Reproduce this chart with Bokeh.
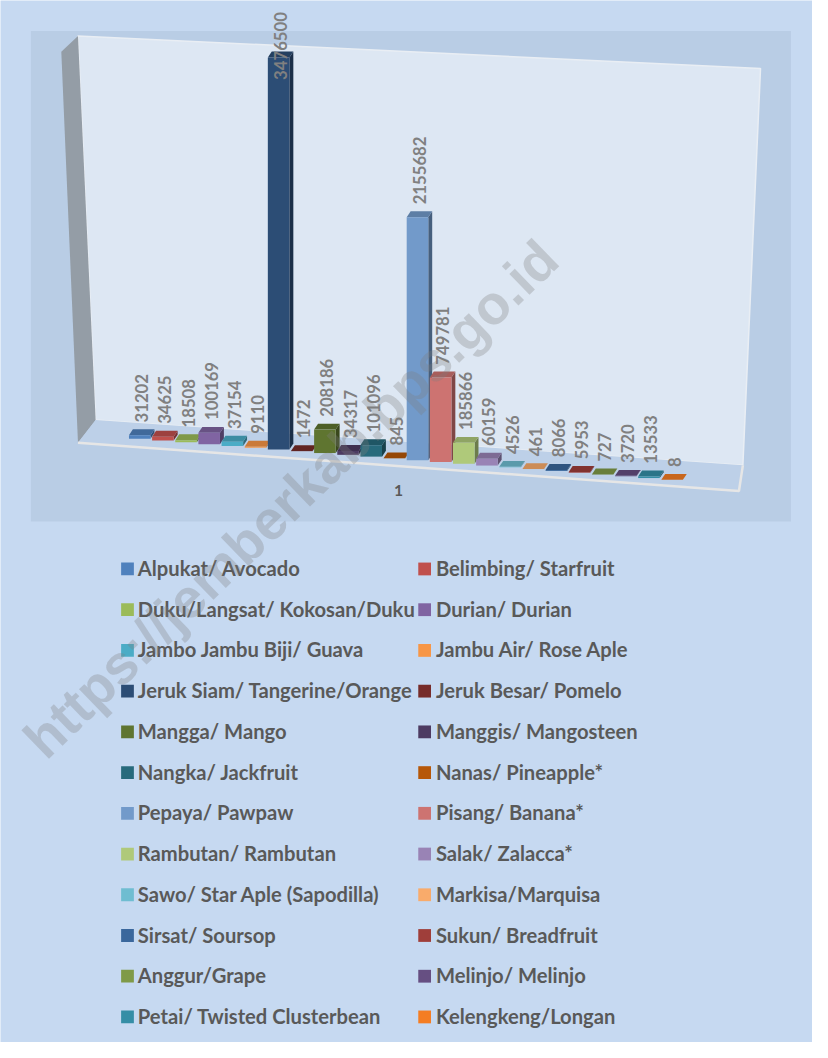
import math
from bokeh.plotting import figure
from bokeh.models import Range1d
from bokeh.core.properties import value
from bokeh.embed import file_html
from bokeh.resources import INLINE

# ---------------- data ----------------
categories = ["1"]
names = [
    "Alpukat/ Avocado", "Belimbing/ Starfruit",
    "Duku/Langsat/ Kokosan/Duku", "Durian/ Durian",
    "Jambo Jambu Biji/ Guava", "Jambu Air/ Rose Aple",
    "Jeruk Siam/ Tangerine/Orange", "Jeruk Besar/ Pomelo",
    "Mangga/ Mango", "Manggis/ Mangosteen",
    "Nangka/ Jackfruit", "Nanas/ Pineapple*",
    "Pepaya/ Pawpaw", "Pisang/ Banana*",
    "Rambutan/ Rambutan", "Salak/ Zalacca*",
    "Sawo/ Star Aple (Sapodilla)", "Markisa/Marquisa",
    "Sirsat/ Soursop", "Sukun/ Breadfruit",
    "Anggur/Grape", "Melinjo/ Melinjo",
    "Petai/ Twisted Clusterbean", "Kelengkeng/Longan",
]
values = [31202, 34625, 18508, 100169, 37154, 9110, 3476500, 1472,
          208186, 34317, 101096, 845, 2155682, 749781, 185866, 60159,
          4526, 461, 8066, 5953, 727, 3720, 13533, 8]
colors = ["#4f81bd", "#c0504d", "#9bbb59", "#8064a2", "#4bacc6", "#f79646",
          "#2c4d75", "#772c2a", "#5f7530", "#4d3b62", "#276a7c", "#b65708",
          "#729aca", "#cd7371", "#afc97a", "#9983b5", "#6fbdd1", "#f9ab6b",
          "#3a679c", "#9f3e3a", "#7f9a48", "#664f82", "#358ea6", "#f47d23"]

# ---------------- layout constants ----------------
W, H = 812, 1042               # figure size on screen
RW, RH = 828.0, 1058.0         # layout units (reference canvas)
PX0, PXSTEP = 142.0, 23.6      # bar index -> layout x
Y0 = 445.0                     # baseline of the first bar (layout y)
K = 398.0 / 3476500.0          # layout units per value unit
SLOPE_PX = 1.813               # floor slope per bar
BAR_W = 22.0 / PXSTEP
DEP_X = 4.0 / PXSTEP
DEP_Y = 6.0 / K
FS = W / RW                    # font scale


def shade(c, f):
    c = c.lstrip("#")
    r, g, b = (int(c[i:i + 2], 16) for i in (0, 2, 4))
    return "#%02x%02x%02x" % (int(r * f), int(g * f), int(b * f))


def px(s):
    return "%.1fpx" % (s * FS)


p = figure(width=W, height=H, x_range=Range1d(0, RW), y_range=Range1d(RH, 0),
           x_axis_location=None, y_axis_location=None, min_border=0,
           output_backend="svg", toolbar_location=None)
p.grid.visible = False
p.outline_line_color = None
p.background_fill_color = "#c6d9f1"
p.border_fill_color = "#c6d9f1"

p.extra_x_ranges = {"idx": Range1d((0 - PX0) / PXSTEP, (RW - PX0) / PXSTEP)}
p.extra_y_ranges = {"val": Range1d((Y0 - RH) / K, (Y0 - 0) / K)}

# plot area and 3D walls (decoration)
p.quad(left=31, right=806, top=31, bottom=529, fill_color="#b9cde5", line_color=None)
p.patch([79, 775, 757, 97], [36, 69, 472, 426], fill_color="#dde7f3",
        line_color="#e9eef4", line_width=1.5)
p.patch([62, 79, 97, 79], [52, 36, 426, 449], fill_color="#949da6", line_color=None)
p.patch([97, 757, 753, 79], [426, 472, 498, 449], fill_color="#bdd0e8",
        line_color=None)
p.line([79, 753, 757], [449, 498, 472], line_color="#e6e6e6", line_width=2.5)

# ---------------- bars ----------------
n = len(values)
idx = list(range(n))
base = [-(SLOPE_PX / K) * i for i in idx]
top = [b + v for b, v in zip(base, values)]
left = [i - BAR_W / 2 for i in idx]
right = [i + BAR_W / 2 for i in idx]

side_xs = [[r, r + DEP_X, r + DEP_X, r] for r in right]
side_ys = [[b, b + DEP_Y, t + DEP_Y, t] for b, t in zip(base, top)]
top_xs = [[l, r, r + DEP_X, l + DEP_X] for l, r in zip(left, right)]
top_ys = [[t, t, t + DEP_Y, t + DEP_Y] for t in top]

p.patches(side_xs, side_ys, fill_color=[shade(c, 0.62) for c in colors],
          line_color=None, x_range_name="idx", y_range_name="val")
p.patches(top_xs, top_ys, fill_color=[shade(c, 0.82) for c in colors],
          line_color=None, x_range_name="idx", y_range_name="val")
p.vbar(x=idx, width=BAR_W, bottom=base, top=top, fill_color=colors,
       line_color=None, x_range_name="idx", y_range_name="val")

# data labels (rotated), kept inside the plot area like Excel does
gap = 7.0 / K
limit = (Y0 - 12.0) / K
lab_y = [min(t + DEP_Y + gap, limit - len(str(v)) * 9.8 / K) for t, v in zip(top, values)]
lab_x = [i + DEP_X / 2 for i in idx]
p.text(x=lab_x, y=lab_y, text=[str(v) for v in values], angle=math.pi / 2,
       text_align="left", text_baseline="middle", text_font=value("Lato"),
       text_font_style="bold", text_font_size=px(17), text_color="#808080",
       x_range_name="idx", y_range_name="val")

# category label
p.text(x=[406], y=[498], text=categories, text_align="center", text_baseline="middle",
       text_font=value("Lato"), text_font_style="bold", text_font_size=px(16),
       text_color="#595959")

# ---------------- legend ----------------
col_sw = [129.5, 432.5]
col_tx = [140.0, 444.0]
row0, rowstep = 577.2, 41.35
sw_x = [col_sw[i % 2] for i in idx]
sw_y = [row0 + rowstep * (i // 2) for i in idx]
tx_x = [col_tx[i % 2] for i in idx]
p.rect(x=sw_x, y=sw_y, width=13, height=13, fill_color=colors, line_color=None)
p.text(x=tx_x, y=[y - 1 for y in sw_y], text=names, text_align="left",
       text_baseline="middle", text_font=value("Lato"), text_font_style="bold",
       text_font_size=px(20.6), text_color="#595959")

# watermark
p.text(x=[296], y=[506], text=["https://jemberkab.bps.go.id"], angle=math.radians(44),
       text_align="center", text_baseline="middle", text_font=value("Liberation Sans"),
       text_font_style="bold", text_font_size=px(56), text_color="#7f7f7f",
       text_alpha=0.3)

open("out.html", "w").write(file_html(p, INLINE))
